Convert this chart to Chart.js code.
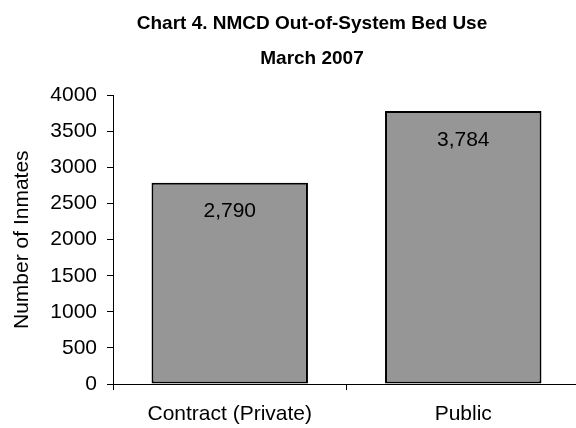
<!DOCTYPE html>
<html>
<head>
<meta charset="utf-8">
<script src="https://cdn.jsdelivr.net/npm/chart.js@4/dist/chart.umd.min.js"></script>
<style>
  html, body { margin: 0; padding: 0; background: #fff; overflow: hidden; }
  #wrap { width: 576px; height: 428px; overflow: hidden; }
</style>
</head>
<body>
<div id="wrap"><canvas id="chart" width="580" height="428"></canvas></div>
<script>
// Chart 4 - NMCD out-of-system bed use, March 2007

const titleLines = ['Chart 4. NMCD Out-of-System Bed Use', 'March 2007'];
const categories = ['Contract (Private)', 'Public'];
const inmates = [2790, 3784];
const yTicks = { min: 0, max: 4000, step: 500 };
const yLabel = 'Number of Inmates';

const FONT = "Arial, 'Liberation Sans', sans-serif";

// the original title sits a bit right of the canvas centre
const titleShift = {
  id: 'titleShift',
  afterLayout(chart) {
    if (chart.titleBlock) chart.titleBlock.left = 44;
  }
};

// value labels just inside the top of each bar
const barLabels = {
  id: 'barLabels',
  afterDatasetsDraw(chart) {
    const ctx = chart.ctx;
    const meta = chart.getDatasetMeta(0);
    ctx.save();
    ctx.font = '21px ' + FONT;
    ctx.fillStyle = '#000';
    ctx.textAlign = 'center';
    ctx.textBaseline = 'middle';
    meta.data.forEach((bar, i) => {
      ctx.fillText(inmates[i].toLocaleString('en-US'), bar.x, bar.y + 29);
    });
    ctx.restore();
  }
};

Chart.defaults.color = '#000';
Chart.defaults.font.family = FONT;

new Chart(document.getElementById('chart'), {
  type: 'bar',
  data: {
    labels: categories,
    datasets: [{
      data: inmates,
      backgroundColor: '#969696',
      borderColor: '#000',
      borderWidth: 2,
      borderSkipped: false,
      categoryPercentage: 1,
      barPercentage: 0.67
    }]
  },
  options: {
    responsive: false,
    animation: false,
    layout: { padding: { left: 0, right: 0, top: 0, bottom: 0 } },
    plugins: {
      legend: { display: false },
      tooltip: { enabled: false },
      title: {
        display: true,
        text: titleLines,
        color: '#000',
        font: { size: 19, weight: 'bold', lineHeight: 1.8 },
        padding: { top: 7, bottom: 20 }
      }
    },
    scales: {
      x: {
        grid: { display: true, drawOnChartArea: false, drawTicks: true, tickLength: 6, color: '#000', offset: true },
        border: { display: true, color: '#000', width: 1 },
        ticks: { font: { size: 21 }, color: '#000', padding: 12, maxRotation: 0 },
        afterFit(scale) { scale.height = 44; }
      },
      y: {
        min: yTicks.min,
        max: yTicks.max,
        grid: { display: true, drawOnChartArea: false, drawTicks: true, tickLength: 6, color: '#000' },
        border: { display: true, color: '#000', width: 1 },
        ticks: { stepSize: yTicks.step, font: { size: 21 }, color: '#000', padding: 10, callback: v => String(v) },
        title: { display: true, text: yLabel, font: { size: 21 }, color: '#000', padding: { top: 10, bottom: 0 } },
        afterFit(scale) { scale.width = 113; }
      }
    }
  },
  plugins: [titleShift, barLabels]
});
</script>
</body>
</html>
